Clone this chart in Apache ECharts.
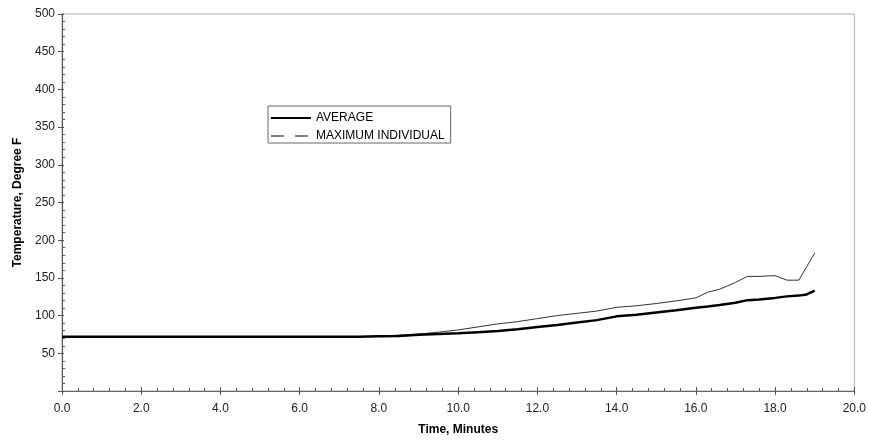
<!DOCTYPE html>
<html>
<head>
<meta charset="utf-8">
<script src="https://cdn.jsdelivr.net/npm/echarts@6/dist/echarts.min.js"></script>
<style>
  html, body { margin: 0; padding: 0; background: #fff; }
  #chart { width: 869px; height: 441px; }
</style>
</head>
<body>
<div id="chart"></div>
<script>
// time in minutes and temperatures (degree F)
const timeMin = [0, 7.5, 8, 8.5, 9, 9.5, 10, 10.5, 11, 11.5, 12, 12.5, 13, 13.5, 14, 14.5, 15, 15.5, 16, 16.3, 16.6, 17, 17.3, 17.6, 18, 18.3, 18.6, 18.8, 19];
const average = [72, 72, 72.5, 73, 74.5, 75.5, 76.5, 78, 79.5, 82, 85, 87.5, 91, 94, 99, 101, 104, 107, 110.5, 112, 114, 117, 120.5, 121.5, 123.5, 125.5, 126.5, 128, 133];
const maxIndividual = [72, 72, 73, 74, 75.5, 78, 81, 85, 89, 92, 96, 100, 103, 106, 111, 113, 116, 119.5, 123.5, 131, 135, 144, 152, 152, 153, 147, 147, 165, 183];

const font = "'Liberation Sans', Arial, sans-serif";

function pairs(ys) {
  return timeMin.map((t, i) => [t, ys[i]]);
}

const chart = echarts.init(document.getElementById("chart"));

const xBase = {
  type: "value", min: 0, max: 20, interval: 2,
  position: "bottom",
  splitLine: { show: false },
  axisLine: { onZero: false, lineStyle: { color: "#666", width: 1 } },
};
const yBase = {
  type: "value", min: 0, max: 500, interval: 50,
  position: "left",
  splitLine: { show: false },
  axisLine: { onZero: false, lineStyle: { color: "#555", width: 1 } },
};

// legend entries: plain line samples, no marker
const hidden = { color: "rgba(0,0,0,0)", opacity: 0, borderWidth: 0 };

chart.setOption({
  animation: false,
  backgroundColor: "#fff",
  grid: {
    left: 62, right: 13, top: 14, bottom: 47,
    show: true, borderColor: "#aaa", borderWidth: 1,
  },
  legend: {
    left: 268, top: 106,
    orient: "vertical",
    itemWidth: 40, itemHeight: 12, itemGap: 6,
    padding: [6, 6, 1, 2],
    borderColor: "#666", borderWidth: 1,
    backgroundColor: "#fff",
    textStyle: { fontFamily: font, fontSize: 12, color: "#000" },
    data: [
      { name: "AVERAGE", itemStyle: hidden, lineStyle: { color: "#000", width: 2 } },
      { name: "MAXIMUM INDIVIDUAL", itemStyle: hidden, lineStyle: { color: "#000", width: 1, type: [13, 11] } },
    ],
  },
  xAxis: [
    Object.assign({}, xBase, {
      name: "Time, Minutes",
      nameLocation: "middle",
      nameGap: 33,
      nameTextStyle: { fontFamily: font, fontSize: 12, fontWeight: "bold", color: "#000" },
      axisTick: { show: true, inside: false, length: 4, lineStyle: { color: "#555" } },
      axisLabel: {
        margin: 12, fontFamily: font, fontSize: 12, color: "#222",
        formatter: (v) => v.toFixed(1),
      },
    }),
    Object.assign({}, xBase, {
      axisTick: { show: true, inside: true, length: 4, lineStyle: { color: "#555" } },
      minorTick: { show: true, splitNumber: 5, length: 3, lineStyle: { color: "#555" } },
      axisLabel: { show: false },
    }),
  ],
  yAxis: [
    Object.assign({}, yBase, {
      name: "Temperature, Degree F",
      nameLocation: "middle",
      nameGap: 38,
      nameTextStyle: { fontFamily: font, fontSize: 12, fontWeight: "bold", color: "#000" },
      axisTick: { show: true, inside: false, length: 4, lineStyle: { color: "#555" } },
      axisLabel: {
        margin: 7, fontFamily: font, fontSize: 12, color: "#222",
        formatter: (v) => (v === 0 ? "" : String(v)),
      },
    }),
    Object.assign({}, yBase, {
      axisTick: { show: true, inside: true, length: 2, lineStyle: { color: "#555" } },
      minorTick: { show: true, splitNumber: 5, length: 3, lineStyle: { color: "#555" } },
      axisLabel: { show: false },
    }),
  ],
  series: [
    {
      name: "AVERAGE",
      type: "line",
      data: pairs(average),
      symbol: "none",
      lineStyle: { color: "#000", width: 2.5 },
      itemStyle: { color: "#000" },
      z: 3,
    },
    {
      name: "MAXIMUM INDIVIDUAL",
      type: "line",
      data: pairs(maxIndividual),
      symbol: "none",
      lineStyle: { color: "#333", width: 1 },
      itemStyle: { color: "#333" },
      z: 2,
    },
  ],
});
</script>
</body>
</html>
